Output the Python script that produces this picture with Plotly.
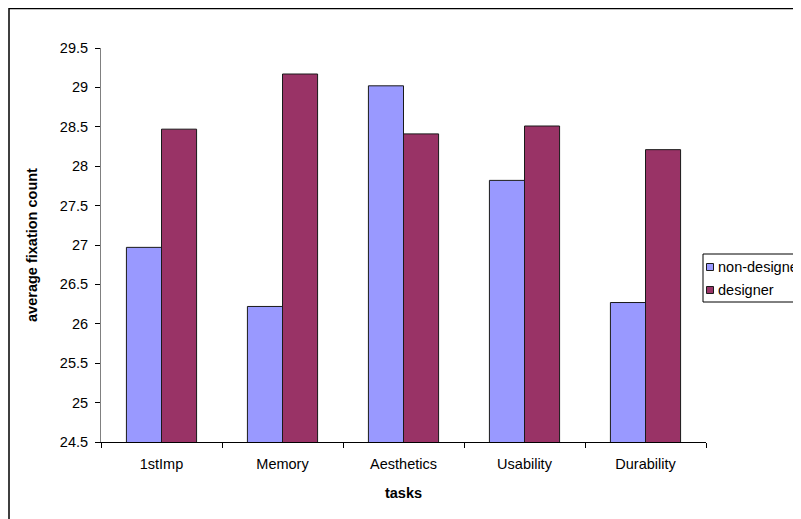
import plotly.graph_objects as go

categories = ["1stImp", "Memory", "Aesthetics", "Usability", "Durability"]
series_names = ["non-designer", "designer"]
non_designer = [26.97, 26.22, 29.02, 27.82, 26.27]
designer = [28.47, 29.17, 28.41, 28.51, 28.21]
colors = ["#9999FF", "#993366"]
y_ticks = [24.5, 25, 25.5, 26, 26.5, 27, 27.5, 28, 28.5, 29, 29.5]

# page has an 8px body margin; figure coordinates below are page - 8
W, H = 793, 511
L, R, T, B = 93, 698, 40, 434
FONT = "Arial, Liberation Sans, sans-serif"
FS = 14.5


def px_x(p):
    return (p - L) / (R - L)


def px_y(p):
    return (B - p) / (B - T)


fig = go.Figure()
for name, vals, col in zip(series_names, [non_designer, designer], colors):
    fig.add_trace(go.Bar(
        x=categories, y=vals, name=name,
        marker=dict(color=col, line=dict(color="#1a1a1a", width=1)),
        showlegend=False,
    ))

shapes = [
    # outer chart border
    dict(type="rect", xref="paper", yref="paper",
         x0=px_x(1), x1=px_x(830), y0=px_y(540), y1=px_y(0.5),
         line=dict(color="#000000", width=1.5), fillcolor="rgba(0,0,0,0)", layer="below"),
    # legend box
    dict(type="rect", xref="paper", yref="paper",
         x0=px_x(695), x1=px_x(830), y0=px_y(294), y1=px_y(246),
         line=dict(color="#000000", width=1), fillcolor="white"),
]
annotations = []
rows = [259, 282]
for name, col, ry in zip(series_names, colors, rows):
    shapes.append(dict(type="rect", xref="paper", yref="paper",
                       x0=px_x(698.5), x1=px_x(705.5), y0=px_y(ry + 3.5), y1=px_y(ry - 3.5),
                       line=dict(color="#1a1a1a", width=1), fillcolor=col))
    annotations.append(dict(xref="paper", yref="paper", x=px_x(707.5), y=px_y(ry),
                            xanchor="left", yanchor="middle", showarrow=False,
                            text=name, font=dict(family=FONT, size=FS, color="#000")))

fig.update_layout(
    width=W, height=H,
    margin=dict(l=L, r=W - R, t=T, b=H - B, autoexpand=False),
    paper_bgcolor="white", plot_bgcolor="white",
    barmode="group", bargap=0.42, bargroupgap=0,
    font=dict(family=FONT, size=FS, color="#000"),
    shapes=shapes, annotations=annotations,
    showlegend=False,
    xaxis=dict(
        type="category", tickson="boundaries", ticks="outside", ticklen=5,
        tickcolor="#000", showline=True, linecolor="#000", linewidth=1,
        showgrid=False, zeroline=False, ticklabelstandoff=9,
        tickfont=dict(family=FONT, size=FS, color="#000"),
        title=dict(text="<b>tasks</b>", font=dict(family=FONT, size=FS), standoff=16),
    ),
    yaxis=dict(
        range=[24.5, 29.5], tickvals=y_ticks, ticktext=[f"{v:g}" for v in y_ticks],
        ticks="outside", ticklen=5, tickcolor="#000",
        showline=True, linecolor="#808080", linewidth=1,
        showgrid=False, zeroline=False, ticklabelstandoff=4,
        tickfont=dict(family=FONT, size=FS, color="#000"),
        title=dict(text="<b>average fixation count</b>", font=dict(family=FONT, size=FS), standoff=18),
    ),
)

fig.write_html("out.html")
